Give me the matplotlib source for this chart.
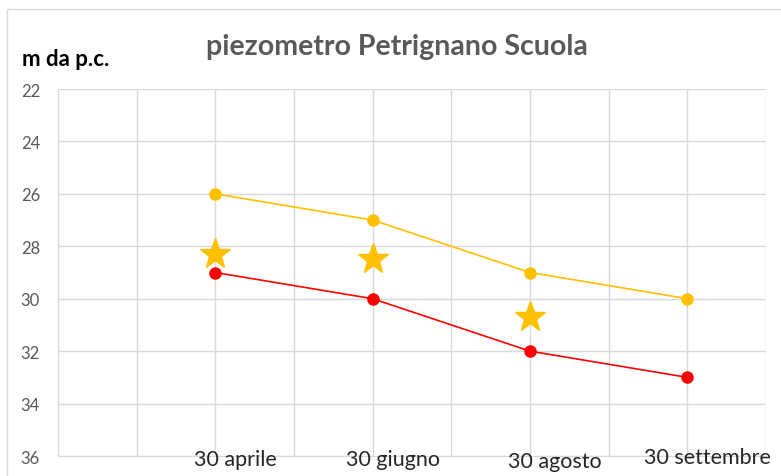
import matplotlib
matplotlib.use("Agg")
import matplotlib.pyplot as plt
from matplotlib.patches import Rectangle

plt.rcParams['font.family'] = ['Lato', 'DejaVu Sans']

# dati
date = ['30 aprile', '30 giugno', '30 agosto', '30 settembre']
livello_giallo = [26, 27, 29, 30]
livello_rosso = [29, 30, 32, 33]
stelle = [28.3, 28.5, 30.7]
yticks = [22, 24, 26, 28, 30, 32, 34, 36]

# posizioni sull'asse x: una data ogni due celle della griglia
xpos = [2 * (i + 1) for i in range(len(date))]

fig = plt.figure(figsize=(7.81, 4.77), dpi=100)
ax = fig.add_axes([58 / 781, 1 - 457 / 477, (766 - 58) / 781, (457 - 90) / 477])

# cornice dell'area grafico
fig.patches.append(Rectangle((7 / 781, -0.1), 1.0, (477 - 10) / 477 + 0.1,
                             transform=fig.transFigure, fill=False,
                             edgecolor='#d9d9d9', lw=1))

ax.plot(xpos, livello_giallo, color='#FFC000', lw=1.2, marker='o', ms=8, zorder=3)
ax.plot(xpos, livello_rosso, color='#FF0000', lw=1.2, marker='o', ms=8, zorder=3)
ax.plot(xpos[:len(stelle)], stelle, ls='none', marker='*', ms=23,
        color='#FFC000', zorder=4)

ax.set_xlim(0, 9)
ax.set_ylim(36, 22)
ax.set_yticks(yticks)
ax.set_xticks(range(0, 10))
ax.set_xticklabels([])
ax.tick_params(axis='both', length=0, colors='#595959', labelsize=12)
ax.tick_params(axis='y', pad=13)
ax.grid(True, color='#d9d9d9', lw=1)
for s in ['top', 'right']:
    ax.spines[s].set_visible(False)
for s in ['left', 'bottom']:
    ax.spines[s].set_color('#d9d9d9')
ax.set_axisbelow(True)

# etichette delle date, disegnate come caselle di testo
offs_x = [0.26, 0.26, 0.32, 0.26]
offs_y = [36.1, 36.1, 36.2, 36.03]
for x, lab, dx, yy in zip(xpos, date, offs_x, offs_y):
    ax.text(x + dx, yy, lab, ha='center', va='center', fontsize=15.5,
            color='#262626', clip_on=False)

fig.text(397 / 781, 1 - 47 / 477, 'piezometro Petrignano Scuola', ha='center',
         va='center', fontsize=20.5, fontweight='bold', color='#595959')
fig.text(22 / 781, 1 - 59 / 477, 'm da p.c.', ha='left', va='center',
         fontsize=16, fontweight='bold', color='#000000')

fig.savefig('out.png', dpi=100)
